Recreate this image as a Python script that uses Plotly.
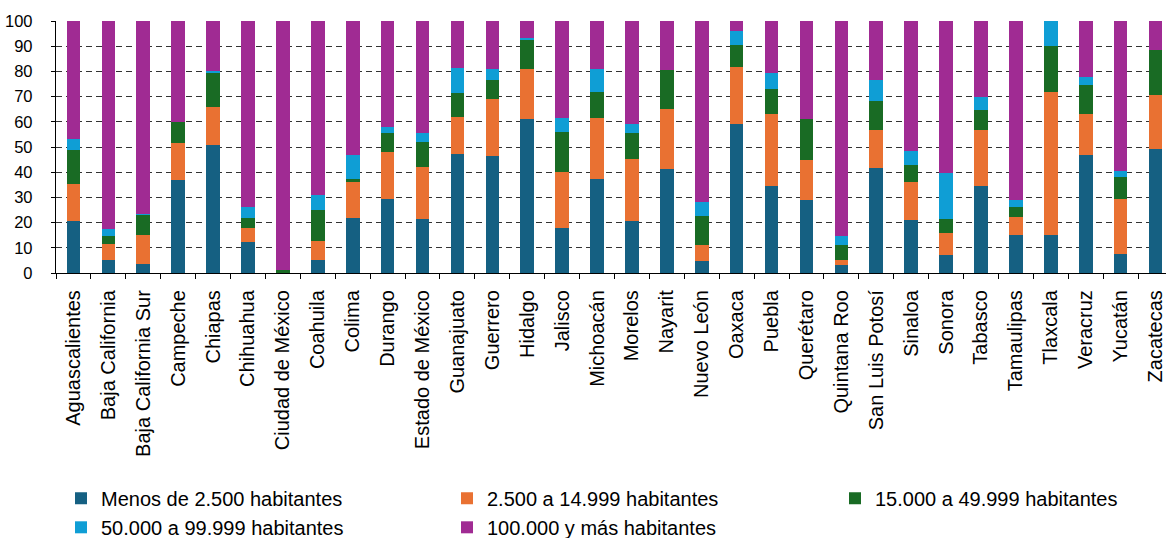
import plotly.graph_objects as go

states = [
    "Aguascalientes", "Baja California", "Baja California Sur", "Campeche", "Chiapas",
    "Chihuahua", "Ciudad de México", "Coahuila", "Colima", "Durango", "Estado de México",
    "Guanajuato", "Guerrero", "Hidalgo", "Jalisco", "Michoacán", "Morelos", "Nayarit",
    "Nuevo León", "Oaxaca", "Puebla", "Querétaro", "Quintana Roo", "San Luis Potosí",
    "Sinaloa", "Sonora", "Tabasco", "Tamaulipas", "Tlaxcala", "Veracruz", "Yucatán",
    "Zacatecas",
]

menos_2500 = [20.7, 5.2, 3.6, 37.0, 50.6, 12.2, 0.1, 5.3, 22.0, 29.5, 21.5, 47.2, 46.6, 61.2, 18.0, 37.2,
              20.7, 41.3, 4.6, 59.3, 34.6, 28.9, 3.2, 41.7, 20.9, 7.0, 34.6, 15.1, 15.1, 46.9, 7.4, 49.1]
de_2500_a_14999 = [14.8, 6.3, 11.4, 14.4, 15.2, 5.5, 0.1, 7.5, 14.0, 18.4, 20.5, 14.8, 22.3, 19.6, 21.9, 24.4,
                   24.5, 23.6, 6.7, 22.3, 28.3, 16.0, 2.0, 15.0, 15.4, 9.0, 22.1, 7.2, 56.8, 16.3, 22.1, 21.4]
de_15000_a_49999 = [13.4, 3.1, 8.2, 8.5, 13.7, 4.2, 1.1, 12.4, 1.4, 7.7, 10.1, 9.3, 7.7, 12.0, 16.1, 10.3,
                    10.4, 15.8, 11.3, 9.0, 10.2, 16.4, 6.1, 11.4, 6.7, 5.5, 8.1, 3.7, 18.0, 11.5, 8.6, 18.1]
de_50000_a_99999 = [4.2, 2.8, 0.2, 0.0, 0.6, 4.3, 0.0, 5.9, 9.5, 2.4, 3.5, 9.9, 4.3, 0.6, 5.7, 8.9,
                    3.7, 0.0, 5.7, 5.4, 6.2, 0.0, 3.5, 8.3, 5.3, 18.0, 5.1, 2.9, 10.1, 3.0, 2.3, 0.0]
mas_100000 = [46.9, 82.6, 76.6, 40.1, 19.9, 73.8, 98.7, 68.9, 53.1, 42.0, 44.4, 18.8, 19.1, 6.6, 38.3, 19.2,
              40.7, 19.3, 71.7, 4.0, 20.7, 38.7, 85.2, 23.6, 51.7, 60.5, 30.1, 71.1, 0.0, 22.3, 59.6, 11.4]

series_names = [
    "Menos de 2.500 habitantes",
    "2.500 a 14.999 habitantes",
    "15.000 a 49.999 habitantes",
    "50.000 a 99.999 habitantes",
    "100.000 y más habitantes",
]
series_values = [menos_2500, de_2500_a_14999, de_15000_a_49999, de_50000_a_99999, mas_100000]
colors = ["#156082", "#E97132", "#196B24", "#0F9ED5", "#A02B93"]
legend_ids = ["legend", "legend2", "legend3", "legend", "legend2"]

FONT = "Arial, 'Liberation Sans', sans-serif"

fig = go.Figure()
for name, vals, color, lg in zip(series_names, series_values, colors, legend_ids):
    fig.add_trace(go.Bar(
        x=states, y=vals, name=name, legend=lg,
        marker=dict(color=color, line=dict(width=0)),
    ))

W, H = 1166, 538
legend_common = dict(
    orientation="v", traceorder="normal", xref="container", yref="container",
    yanchor="top", xanchor="left", y=1 - 478.8 / H,
    font=dict(family=FONT, size=20, color="#000000"),
    bgcolor="rgba(0,0,0,0)", borderwidth=0,
)

fig.update_layout(
    width=W, height=H,
    barmode="stack", bargap=0.61,
    plot_bgcolor="white", paper_bgcolor="white",
    margin=dict(l=56, r=0, t=21, b=265, autoexpand=False),
    font=dict(family=FONT, color="#000000"),
    legend=dict(legend_common, x=61 / W),
    legend2=dict(legend_common, x=447 / W),
    legend3=dict(legend_common, x=835 / W),
    xaxis=dict(
        type="category", range=[-0.5, 31.3], automargin=False,
        showline=True, linecolor="#000000", linewidth=1.3,
        ticks="outside", tickson="boundaries", ticklen=5, tickcolor="#000000", tickwidth=1.3,
        tickangle=-90, tickfont=dict(family=FONT, size=20, color="#000000"),
        ticklabelstandoff=8, showgrid=False,
    ),
    yaxis=dict(
        range=[0, 100], tickvals=list(range(0, 101, 10)), automargin=False,
        showline=True, linecolor="#000000", linewidth=1.3,
        ticks="outside", ticklen=4, tickcolor="#000000", tickwidth=1.3,
        tickfont=dict(family=FONT, size=16.5, color="#000000"),
        ticklabelstandoff=15,
        showgrid=True, gridcolor="#333333", gridwidth=1.3, griddash="6px,4px",
        zeroline=False,
    ),
)

fig.write_html("out.html", config={"displayModeBar": False},
               post_script="document.body.style.margin='0px';")
